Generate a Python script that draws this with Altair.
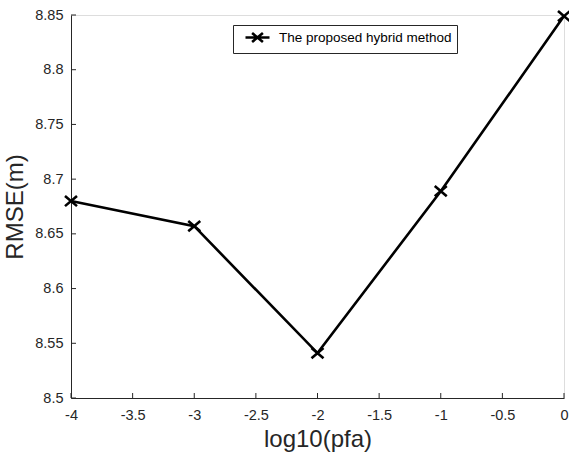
import altair as alt
import pandas as pd

# data
log_pfa = [-4, -3, -2, -1, 0]
rmse = [8.680, 8.657, 8.541, 8.689, 8.849]
series = ["The proposed hybrid method"] * 5
x_ticks = [-4, -3.5, -3, -2.5, -2, -1.5, -1, -0.5, 0]
y_ticks = [8.5, 8.55, 8.6, 8.65, 8.7, 8.75, 8.8, 8.85]

df = pd.DataFrame({"x": log_pfa, "y": rmse, "s": series})
xt = pd.DataFrame({"v": x_ticks})
yt = pd.DataFrame({"v": y_ticks})

W, H = 493, 383
AX = "#262626"
FONT = "Liberation Sans"
MINUS_FIX = "replace(datum.label, '\u2212', '-')"

xscale = alt.Scale(domain=[-4, 0], nice=False)
yscale = alt.Scale(domain=[8.5, 8.85], nice=False, zero=False)

xaxis = alt.Axis(values=x_ticks, format="~g", labelExpr=MINUS_FIX,
                 title="log10(pfa)", tickSize=0,
                 labelPadding=10, titlePadding=6, titleFontSize=24,
                 titleFontWeight="normal", labelFontSize=14.5, grid=False,
                 domainColor=AX, labelColor=AX, titleColor=AX, labelFont=FONT,
                 titleFont=FONT, labelFlush=False)
yaxis = alt.Axis(values=y_ticks, format="~g", title="RMSE(m)", tickSize=0,
                 labelPadding=8, titlePadding=7, titleFontSize=24,
                 titleFontWeight="normal", labelFontSize=14.5, grid=False,
                 domainColor=AX, labelColor=AX, titleColor=AX, labelFont=FONT,
                 titleFont=FONT, labelFlush=False)

legend_path = "M-2,0L2,0M-0.9,-0.75L0.9,0.75M-0.9,0.75L0.9,-0.75"

line = alt.Chart(df).mark_line(strokeWidth=2.6).encode(
    x=alt.X("x:Q", scale=xscale, axis=xaxis),
    y=alt.Y("y:Q", scale=yscale, axis=yaxis),
    color=alt.Color("s:N", scale=alt.Scale(range=["black"]),
                    legend=alt.Legend(title=None, orient="none", legendX=162,
                                      legendY=10, symbolType=legend_path,
                                      symbolSize=144, symbolStrokeWidth=2.6,
                                      symbolStrokeColor="black",
                                      symbolFillColor="transparent",
                                      strokeColor=AX, padding=5,
                                      labelFontSize=13.5, labelFont=FONT,
                                      labelLimit=1000,
                                      labelColor="black", labelOffset=14,
                                      symbolOffset=12)),
)

pts = alt.Chart(df).mark_point(shape="M-1,-0.85L1,0.85M-1,0.85L1,-0.85", size=144,
                               filled=False, strokeWidth=2.6, color="black",
                               opacity=1).encode(
    x=alt.X("x:Q", scale=xscale),
    y=alt.Y("y:Q", scale=yscale),
)

xticks = alt.Chart(xt).mark_rule(color=AX, strokeWidth=1).encode(
    x=alt.X("v:Q", scale=xscale),
    y=alt.value(H), y2=alt.value(H - 5),
)
yticks = alt.Chart(yt).mark_rule(color=AX, strokeWidth=1).encode(
    y=alt.Y("v:Q", scale=yscale),
    x=alt.value(0), x2=alt.value(5),
)

chart = alt.layer(xticks, yticks, line, pts).properties(
    width=W, height=H,
    autosize=alt.AutoSizeParams(type="none"),
    padding={"left": 71, "top": 15, "right": 5, "bottom": 61},
).configure_view(stroke=None).configure(background="white")

chart.save("out.html", embed_options={"renderer": "svg", "actions": False})
